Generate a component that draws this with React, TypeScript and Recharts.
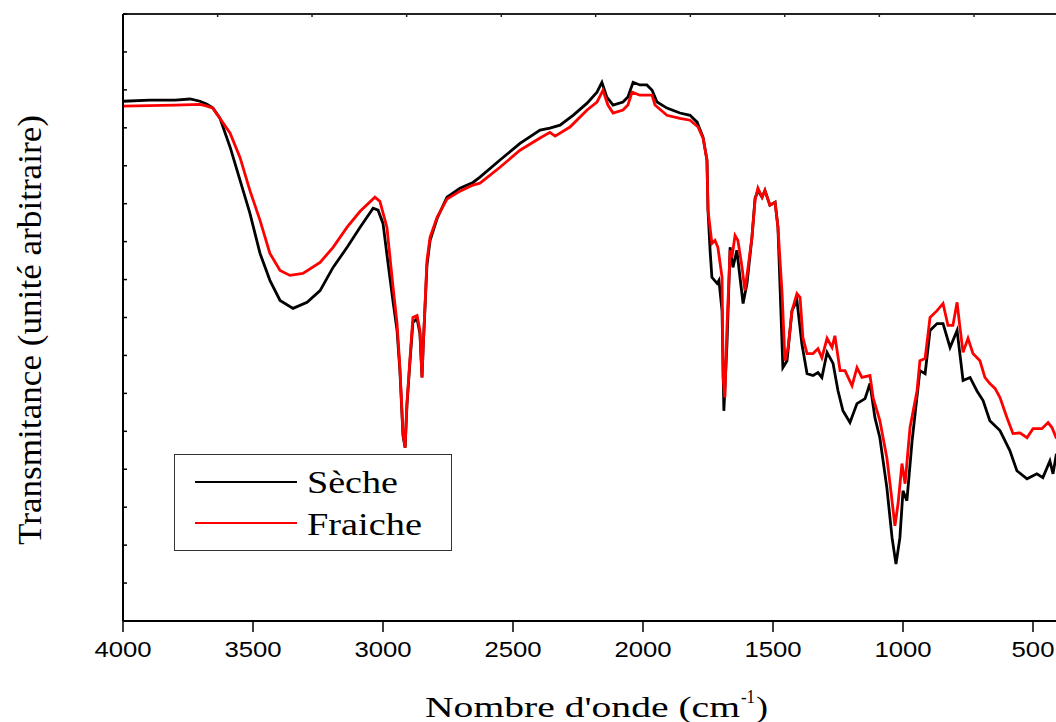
import { LineChart, Line, XAxis, YAxis, Legend } from 'recharts';

// FTIR spectra, transmittance in arbitrary units (0-16 grid)
const SECHE_WN = [
  4000, 3896, 3800, 3742, 3704, 3677, 3654, 3627, 3588, 3550, 3512, 3473, 3435, 3396, 3346, 3292,
  3242, 3192, 3138, 3088, 3038, 3019, 3000, 2981, 2962, 2946, 2935, 2923, 2915, 2908, 2896, 2885,
  2869, 2858, 2850, 2846, 2831, 2819, 2792, 2754, 2704, 2654, 2627, 2550, 2473, 2396, 2358, 2319,
  2269, 2215, 2177, 2158, 2139, 2115, 2077, 2058, 2038, 2012, 1985, 1965, 1946, 1908, 1858, 1819,
  1792, 1769, 1754, 1750, 1742, 1735, 1715, 1708, 1696, 1689, 1677, 1665, 1654, 1639, 1627, 1615,
  1600, 1581, 1569, 1558, 1542, 1531, 1512, 1492, 1481, 1462, 1446, 1427, 1408, 1389, 1369, 1346,
  1327, 1312, 1292, 1269, 1250, 1231, 1204, 1177, 1146, 1127, 1108, 1089, 1062, 1042, 1027, 1012,
  1000, 985, 965, 935, 915, 896, 869, 846, 819, 792, 769, 742, 716, 692, 666, 627,
  589, 562, 523, 485, 462, 435, 423, 410,
];
const SECHE_T = [
  13.70, 13.73, 13.73, 13.76, 13.70, 13.62, 13.52, 13.25, 12.49, 11.62, 10.75, 9.69, 8.98, 8.45, 8.24, 8.40,
  8.71, 9.32, 9.85, 10.38, 10.88, 10.83, 10.48, 9.45, 8.45, 7.66, 6.60, 4.88, 4.57, 5.68, 6.86, 7.87,
  7.97, 7.58, 6.42, 7.13, 9.37, 10.03, 10.61, 11.17, 11.41, 11.56, 11.70, 12.15, 12.59, 12.94, 12.99, 13.07,
  13.33, 13.65, 13.94, 14.20, 13.81, 13.60, 13.68, 13.81, 14.20, 14.13, 14.13, 13.99, 13.68, 13.52, 13.39, 13.33,
  13.15, 12.75, 12.15, 10.83, 9.77, 9.06, 8.90, 8.98, 8.18, 5.54, 7.31, 9.85, 9.32, 9.77, 9.06, 8.37,
  8.90, 10.11, 11.14, 11.35, 11.17, 11.35, 10.96, 11.04, 10.38, 6.68, 6.86, 8.18, 8.45, 7.31, 6.52, 6.47,
  6.55, 6.42, 7.08, 6.79, 6.07, 5.54, 5.23, 5.73, 5.86, 6.26, 5.36, 4.83, 3.51, 2.19, 1.50, 2.19,
  3.43, 3.17, 4.75, 6.60, 6.52, 7.66, 7.84, 7.84, 7.21, 7.66, 6.34, 6.42, 6.07, 5.81, 5.28, 5.02,
  4.49, 3.96, 3.75, 3.88, 3.78, 4.22, 3.88, 4.41,
];

const FRAICHE_WN = [
  4000, 3800, 3704, 3677, 3654, 3588, 3550, 3512, 3473, 3435, 3396, 3358, 3308, 3242, 3192, 3138,
  3088, 3031, 3012, 2985, 2962, 2946, 2935, 2923, 2915, 2908, 2896, 2885, 2869, 2858, 2850, 2846,
  2831, 2819, 2792, 2754, 2704, 2654, 2627, 2550, 2473, 2396, 2358, 2338, 2281, 2215, 2177, 2154,
  2135, 2115, 2077, 2058, 2042, 2012, 1965, 1954, 1908, 1858, 1819, 1788, 1769, 1754, 1750, 1735,
  1723, 1712, 1696, 1692, 1685, 1677, 1665, 1658, 1646, 1635, 1619, 1608, 1596, 1581, 1569, 1558,
  1542, 1531, 1512, 1492, 1481, 1465, 1454, 1442, 1427, 1408, 1396, 1385, 1369, 1346, 1327, 1312,
  1292, 1273, 1262, 1242, 1223, 1196, 1177, 1158, 1127, 1115, 1089, 1062, 1050, 1031, 1019, 1004,
  992, 973, 946, 935, 915, 896, 869, 846, 827, 808, 792, 781, 769, 750, 731, 704,
  685, 666, 646, 627, 600, 577, 550, 523, 500, 466, 442, 427, 410,
];
const FRAICHE_T = [
  13.57, 13.60, 13.62, 13.57, 13.52, 12.86, 12.22, 11.35, 10.56, 9.69, 9.24, 9.11, 9.16, 9.45, 9.85, 10.38,
  10.80, 11.17, 11.06, 10.38, 8.84, 7.84, 6.68, 4.94, 4.57, 5.73, 6.94, 8.00, 8.05, 7.66, 6.42, 7.13,
  9.50, 10.11, 10.64, 11.12, 11.33, 11.49, 11.54, 11.96, 12.41, 12.73, 12.88, 12.78, 13.02, 13.47, 13.68, 13.99,
  13.60, 13.39, 13.47, 13.60, 13.94, 13.86, 13.86, 13.60, 13.33, 13.25, 13.20, 13.02, 12.73, 12.15, 10.83, 9.95,
  10.03, 9.85, 9.06, 6.42, 5.89, 7.74, 9.77, 9.58, 10.16, 10.03, 9.32, 8.71, 9.32, 10.11, 11.09, 11.41,
  11.17, 11.35, 10.96, 11.04, 10.38, 8.63, 6.86, 7.21, 8.18, 8.63, 8.53, 7.47, 7.05, 7.05, 7.18, 6.94,
  7.45, 7.21, 7.52, 6.60, 6.60, 6.20, 6.68, 6.42, 6.47, 5.89, 5.28, 4.30, 3.62, 2.51, 3.09, 4.15,
  3.62, 5.10, 6.07, 6.86, 6.92, 8.00, 8.18, 8.37, 7.79, 7.79, 8.40, 7.74, 7.08, 7.45, 7.05, 6.86,
  6.42, 6.26, 6.13, 5.89, 5.36, 4.94, 4.96, 4.83, 5.07, 5.07, 5.23, 5.10, 4.81,
];

const X_TICKS = [4000, 3500, 3000, 2500, 2000, 1500, 1000, 500];
const TOP_TICKS = [4000, 3636, 3273, 2909, 2545, 2182, 1818, 1455, 1091, 727];
const Y_TICKS = [0, 1, 2, 3, 4, 5, 6, 7, 8, 9, 10, 11, 12, 13, 14, 15, 16];

const seche = SECHE_WN.map((wn, i) => ({ wn, t: SECHE_T[i] }));
const fraiche = FRAICHE_WN.map((wn, i) => ({ wn, t: FRAICHE_T[i] }));

const SERIF = '"Liberation Serif", "Times New Roman", serif';
const SANS = '"Liberation Sans", Arial, sans-serif';

const XTick = ({ x, y, payload }: any) => (
  <text
    x={x}
    y={y + 23}
    textAnchor="middle"
    fontFamily={SANS}
    fontSize={22}
    fill="#000"
    textLength={String(payload.value).length * 14.3}
    lengthAdjust="spacingAndGlyphs"
  >
    {payload.value}
  </text>
);

const NoTick = () => <g />;

const XTitle = () => (
  <g fontFamily={SERIF} fill="#000">
    <text x={425} y={717} fontSize={29} textLength={315} lengthAdjust="spacingAndGlyphs">
      Nombre d'onde (cm
    </text>
    <text x={741} y={703} fontSize={19} textLength={14} lengthAdjust="spacingAndGlyphs">
      -1
    </text>
    <text x={756} y={717} fontSize={29} textLength={12} lengthAdjust="spacingAndGlyphs">
      )
    </text>
  </g>
);

const YTitle = () => (
  <text
    transform="translate(41,330) rotate(-90)"
    textAnchor="middle"
    fontFamily={SERIF}
    fontSize={33}
    fill="#000"
    textLength={430}
    lengthAdjust="spacingAndGlyphs"
  >
    Transmitance (unité arbitraire)
  </text>
);

const LegendBox = () => (
  <svg width={278} height={97} style={{ display: 'block' }}>
    <rect x={0.5} y={0.5} width={277} height={96} fill="#fff" stroke="#333" strokeWidth={1} />
    <line x1={21} x2={123} y1={28} y2={28} stroke="#000" strokeWidth={2} />
    <text x={133} y={39} fontFamily={SERIF} fontSize={32} fill="#000" textLength={91} lengthAdjust="spacingAndGlyphs">
      Sèche
    </text>
    <line x1={21} x2={123} y1={69} y2={69} stroke="#ff0000" strokeWidth={2} />
    <text x={133} y={81} fontFamily={SERIF} fontSize={32} fill="#000" textLength={115} lengthAdjust="spacingAndGlyphs">
      Fraiche
    </text>
  </svg>
);

export default function App() {
  return (
    <div style={{ position: 'fixed', left: 0, top: 0, width: 1056, height: 722, overflow: 'hidden', background: '#fff' }}>
      <LineChart width={1080} height={722} margin={{ top: 13, right: 21, bottom: 0, left: 122 }}>
        <XAxis
          dataKey="wn"
          type="number"
          domain={[400, 4000]}
          reversed
          allowDataOverflow
          ticks={X_TICKS}
          interval={0}
          height={101}
          tickSize={11}
          tick={XTick}
          axisLine={{ stroke: '#000', strokeWidth: 2 }}
          tickLine={{ stroke: '#000', strokeWidth: 1.5 }}
          label={{ content: XTitle }}
        />
        <XAxis
          xAxisId="top"
          dataKey="wn"
          type="number"
          orientation="top"
          domain={[400, 4000]}
          reversed
          allowDataOverflow
          ticks={TOP_TICKS}
          interval={0}
          height={1}
          tickSize={-3}
          tick={NoTick}
          axisLine={{ stroke: '#222', strokeWidth: 2 }}
          tickLine={{ stroke: '#222', strokeWidth: 1.5 }}
        />
        <YAxis
          type="number"
          domain={[0, 16]}
          ticks={Y_TICKS}
          interval={0}
          width={1}
          tickSize={-4}
          tick={NoTick}
          axisLine={{ stroke: '#000', strokeWidth: 2 }}
          tickLine={{ stroke: '#000', strokeWidth: 1.5 }}
          label={{ content: YTitle }}
        />
        <Legend
          layout="horizontal"
          verticalAlign="middle"
          align="center"
          content={LegendBox}
          wrapperStyle={{ left: 174, top: 454, width: 278, height: 97 }}
        />
        <Line
          data={seche}
          dataKey="t"
          name="Sèche"
          type="linear"
          stroke="#000"
          strokeWidth={2.8}
          dot={false}
          isAnimationActive={false}
        />
        <Line
          data={fraiche}
          dataKey="t"
          name="Fraiche"
          type="linear"
          stroke="#ff0000"
          strokeWidth={2.8}
          dot={false}
          isAnimationActive={false}
        />
      </LineChart>
    </div>
  );
}
